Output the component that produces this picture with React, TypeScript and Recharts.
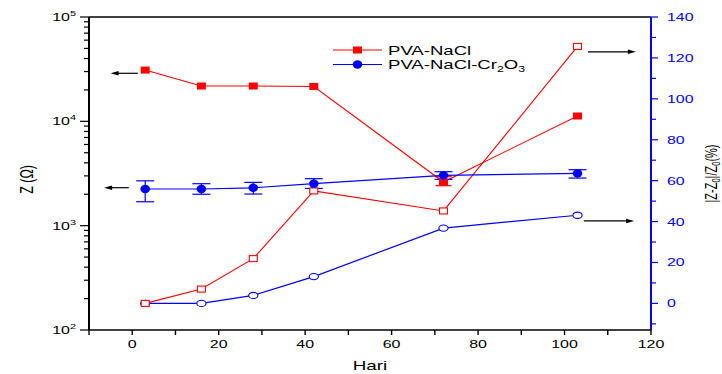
import React from "react";
import { LineChart, Line, XAxis, YAxis, ErrorBar, ReferenceLine, Legend } from "recharts";

// days of measurement
const hari = [3, 16, 28, 42, 72, 103];

// impedance Z (ohm), left log axis
const zNaCl = [31000, 21800, 21800, 21600, 2620, 11250];
const zNaClErr: ([number, number] | null)[] = [null, null, null, null, [205, 325], null];
const zCr = [2245, 2245, 2307, 2525, 3035, 3170];
const zCrErr: ([number, number] | null)[] = [[550, 445], [245, 280], [297, 293], [250, 295], [255, 255], [310, 270]];

// |Z-Z0|/Z0 (%), right axis
const dNaCl = [0, 7.0, 21.9, 55.0, 45.2, 125.6];
const dCr = [0, 0, 3.9, 13.1, 36.8, 43.1];

// ticks
const xTicks = [-10, 0, 10, 20, 30, 40, 50, 60, 70, 80, 90, 100, 110, 120];
const decades = [100, 1000, 10000];
const zTicks = [...decades.flatMap((d) => [1, 2, 3, 4, 5, 6, 7, 8, 9].map((m) => m * d)), 100000];
const pTicks = [-10, 0, 10, 20, 30, 40, 50, 60, 70, 80, 90, 100, 110, 120, 130, 140];

// the arrows telling which axis belongs to which curves
const arrows = [
  { axis: "left", y: 28870, from: 1.3, to: -5 },
  { axis: "left", y: 2312, from: -0.8, to: -6.5 },
  { axis: "right", y: 123, from: 105.4, to: 116.5 },
  { axis: "right", y: 40.3, from: 104.5, to: 116.1 },
];

const rows = hari.map((d, i) => ({
  day: d,
  zNaCl: zNaCl[i],
  zNaClErr: zNaClErr[i],
  zCr: zCr[i],
  zCrErr: zCrErr[i],
  dNaCl: dNaCl[i],
  dCr: dCr[i],
}));

const RED = "#ff0000";
const BLUE = "#0000ff";
const FONT = "'Liberation Sans', Arial, Helvetica, sans-serif";
const SX = 1.45; // the figure is stretched horizontally

const BottomTick = (p: any) => {
  const { x, y, payload } = p;
  const v = payload.value;
  return (
    <g>
      <line x1={x} y1={y} x2={x} y2={y + 5} stroke="#000" strokeWidth={1.4} />
      {v % 20 === 0 && (
        <text transform={`translate(${x},${y + 18}) scale(${SX},1)`} textAnchor="middle" fontSize={11} fontFamily={FONT} fill="#000">
          {v}
        </text>
      )}
    </g>
  );
};

const TopTick = (p: any) => {
  const { x, y } = p;
  return <line x1={x} y1={y} x2={x} y2={y + 6} stroke="#000" strokeWidth={1.4} />;
};

const LeftTick = (p: any) => {
  const { x, y, payload } = p;
  const v = payload.value;
  const e = Math.log10(v);
  const major = Math.abs(e - Math.round(e)) < 1e-6;
  if (!major) return <line x1={x - 5} y1={y} x2={x} y2={y} stroke="#000" strokeWidth={1.2} />;
  return (
    <g>
      <line x1={x - 9} y1={y} x2={x} y2={y} stroke="#000" strokeWidth={1.2} />
      <text transform={`translate(${x - 13},${y + 4}) scale(${SX},1)`} textAnchor="end" fontSize={11} fontFamily={FONT} fill="#000">
        10<tspan dy={-5} fontSize={7.5}>{Math.round(e)}</tspan>
      </text>
    </g>
  );
};

const RightTick = (p: any) => {
  const { x, y, payload } = p;
  const v = payload.value;
  const major = v % 20 === 0;
  return (
    <g>
      <line x1={x} y1={y} x2={x + (major ? 7 : 5)} y2={y} stroke={BLUE} strokeWidth={1.2} />
      {major && (
        <text transform={`translate(${x + 16},${y + 4}) scale(${SX},1)`} textAnchor="start" fontSize={11} fontFamily={FONT} fill={BLUE}>
          {v}
        </text>
      )}
    </g>
  );
};

const FilledSquare = (p: any) =>
  p.cx == null ? null : <rect key={p.key} x={p.cx - 4.5} y={p.cy - 3.5} width={9} height={7} fill={RED} />;
const OpenSquare = (p: any) =>
  p.cx == null ? null : <rect key={p.key} x={p.cx - 4} y={p.cy - 3} width={8} height={6} fill="#fff" stroke={RED} strokeWidth={1.1} />;
const FilledCircle = (p: any) =>
  p.cx == null ? null : <ellipse key={p.key} cx={p.cx} cy={p.cy} rx={4.8} ry={4.2} fill={BLUE} />;
const OpenCircle = (p: any) =>
  p.cx == null ? null : <ellipse key={p.key} cx={p.cx} cy={p.cy} rx={4.6} ry={3.1} fill="#fff" stroke={BLUE} strokeWidth={1.1} />;

const ArrowShape = (p: any) => {
  const { x1, y1, x2, y2 } = p;
  const dir = Math.sign(x2 - x1);
  return (
    <g>
      <line x1={x1} y1={y1} x2={x2 - dir * 6} y2={y2} stroke="#000" strokeWidth={1.2} />
      <polygon points={`${x2},${y2} ${x2 - dir * 8},${y2 - 2.3} ${x2 - dir * 8},${y2 + 2.3}`} fill="#000" />
    </g>
  );
};

const LegendBox = () => (
  <svg width={240} height={36} style={{ display: "block", overflow: "visible" }}>
    <line x1={0} y1={10} x2={49} y2={10} stroke={RED} strokeWidth={1.2} />
    <rect x={20} y={6.5} width={9} height={7} fill={RED} />
    <text transform={`translate(55,14.5) scale(${SX},1)`} fontSize={12.8} fontFamily={FONT} fill="#000">
      PVA-NaCl
    </text>
    <line x1={0} y1={24.5} x2={49} y2={24.5} stroke={BLUE} strokeWidth={1.2} />
    <ellipse cx={24.5} cy={24.5} rx={4.8} ry={4.2} fill={BLUE} />
    <text transform={`translate(55,29) scale(${SX},1)`} fontSize={12.8} fontFamily={FONT} fill="#000">
      PVA-NaCl-Cr<tspan dy={3} fontSize={8.5}>2</tspan>
      <tspan dy={-3}>O</tspan>
      <tspan dy={3} fontSize={8.5}>3</tspan>
    </text>
  </svg>
);

const LeftLabel = (p: any) => {
  const vb = p.viewBox;
  const cy = vb.y + vb.height / 2;
  return (
    <text transform={`translate(33,${cy + 6}) scale(${SX},1) rotate(-90)`} textAnchor="middle" fontSize={12.5} fontFamily={FONT} fill="#000">
      Z (Ω)
    </text>
  );
};

const RightLabel = (p: any) => {
  const vb = p.viewBox;
  const cy = vb.y + vb.height / 2;
  return (
    <text transform={`translate(716.5,${cy}) scale(${SX},1) rotate(-90)`} textAnchor="middle" fontSize={11} fontFamily={FONT} fill="#000">
      |Z-Z<tspan dy={2.5} fontSize={7.5}>0</tspan>
      <tspan dy={-2.5}>|/Z</tspan>
      <tspan dy={2.5} fontSize={7.5}>0</tspan>
      <tspan dy={-2.5}>(%)</tspan>
    </text>
  );
};

const BottomLabel = (p: any) => {
  const vb = p.viewBox;
  return (
    <text transform={`translate(${vb.x + vb.width / 2},370) scale(${SX},1)`} textAnchor="middle" fontSize={13} fontFamily={FONT} fill="#000">
      Hari
    </text>
  );
};

export default function App() {
  return (
    <div style={{ position: "absolute", left: 0, top: 0, width: 722, height: 374, background: "#fff", fontFamily: FONT }}>
      <LineChart width={722} height={374} data={rows} margin={{ top: 0, right: 0, bottom: 0, left: 0 }}>
        <XAxis
          xAxisId="bottom"
          dataKey="day"
          type="number"
          domain={[-10, 120]}
          ticks={xTicks}
          interval={0}
          tick={BottomTick}
          tickLine={false}
          tickSize={0}
          tickMargin={0}
          height={44}
          allowDataOverflow
          axisLine={{ stroke: "#000", strokeWidth: 1.3 }}
          label={{ content: BottomLabel }}
        />
        <XAxis
          xAxisId="top"
          orientation="top"
          type="number"
          domain={[-10, 120]}
          ticks={xTicks}
          interval={0}
          tick={TopTick}
          tickLine={false}
          tickSize={0}
          tickMargin={0}
          height={17}
          allowDataOverflow
          axisLine={{ stroke: "#000", strokeWidth: 1.3 }}
        />
        <YAxis
          yAxisId="left"
          type="number"
          scale="log"
          domain={[100, 100000]}
          ticks={zTicks}
          interval={0}
          tick={LeftTick}
          tickLine={false}
          tickSize={0}
          tickMargin={0}
          width={89}
          allowDataOverflow
          axisLine={{ stroke: "#000", strokeWidth: 2 }}
          label={{ content: LeftLabel }}
        />
        <YAxis
          yAxisId="right"
          orientation="right"
          type="number"
          domain={[-13, 140]}
          ticks={pTicks}
          interval={0}
          tick={RightTick}
          tickLine={false}
          tickSize={0}
          tickMargin={0}
          width={71}
          allowDataOverflow
          axisLine={{ stroke: BLUE, strokeWidth: 2 }}
          label={{ content: RightLabel }}
        />
        <Legend
          layout="vertical"
          align="center"
          verticalAlign="middle"
          content={LegendBox}
          wrapperStyle={{ position: "absolute", left: 333, top: 40, width: 240, height: 36 }}
        />
        {arrows.map((a, i) => (
          <ReferenceLine
            key={`arrow-${i}`}
            xAxisId="bottom"
            yAxisId={a.axis}
            segment={[
              { x: a.from, y: a.y },
              { x: a.to, y: a.y },
            ]}
            ifOverflow="visible"
            shape={ArrowShape}
          />
        ))}
        <Line
          xAxisId="bottom"
          yAxisId="right"
          dataKey="dCr"
          stroke={BLUE}
          strokeWidth={1.2}
          dot={OpenCircle}
          activeDot={false}
          isAnimationActive={false}
        />
        <Line
          xAxisId="bottom"
          yAxisId="right"
          dataKey="dNaCl"
          stroke={RED}
          strokeWidth={1.1}
          dot={OpenSquare}
          activeDot={false}
          isAnimationActive={false}
        />
        <Line
          xAxisId="bottom"
          yAxisId="left"
          dataKey="zNaCl"
          stroke={RED}
          strokeWidth={1.1}
          dot={FilledSquare}
          activeDot={false}
          isAnimationActive={false}
        >
          <ErrorBar dataKey="zNaClErr" direction="y" width={8} stroke={RED} strokeWidth={1.2} />
        </Line>
        <Line
          xAxisId="bottom"
          yAxisId="left"
          dataKey="zCr"
          stroke={BLUE}
          strokeWidth={1.2}
          dot={FilledCircle}
          activeDot={false}
          isAnimationActive={false}
        >
          <ErrorBar dataKey="zCrErr" direction="y" width={9} stroke={BLUE} strokeWidth={1.2} />
        </Line>
      </LineChart>
    </div>
  );
}
